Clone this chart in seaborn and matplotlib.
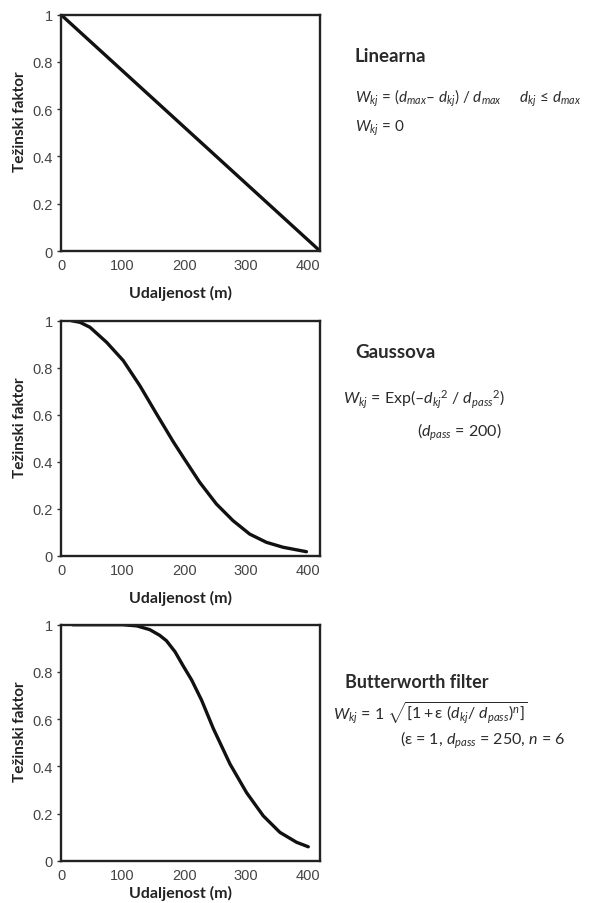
import numpy as np
import pandas as pd
import matplotlib
matplotlib.use("Agg")
import matplotlib.pyplot as plt
import seaborn as sns

# Values (distance in m, weight factor)
linear_d = [0, 420]
linear_w = [1.0, 0.0]

gauss_d = [17, 31, 47, 74, 101, 128, 155, 182, 198, 225, 252, 279, 306, 333, 360, 398]
gauss_w = [1.0, 0.993, 0.972, 0.908, 0.83, 0.723, 0.603, 0.485, 0.42, 0.312,
           0.22, 0.149, 0.092, 0.057, 0.036, 0.017]

butter_d = [19, 60, 100, 123, 144, 160, 171, 185, 198, 212, 228, 247, 274, 301,
            328, 355, 382, 401]
butter_w = [1.0, 1.0, 1.0, 0.995, 0.979, 0.955, 0.932, 0.885, 0.826, 0.765, 0.68,
            0.56, 0.41, 0.288, 0.19, 0.12, 0.078, 0.059]

x_ticks = [0, 100, 200, 300, 400]
y_ticks = [0, 0.2, 0.4, 0.6, 0.8, 1]
y_ticklabels = ["0", "0.2", "0.4", "0.6", "0.8", "1"]

x_label = "Udaljenost (m)"
y_label = "Težinski faktor"

sns.set_theme(style="white")
plt.rcParams["font.family"] = ["Lato", "DejaVu Sans"]
plt.rcParams["mathtext.fontset"] = "custom"
plt.rcParams["mathtext.rm"] = "Lato"
plt.rcParams["mathtext.it"] = "Lato:italic"
plt.rcParams["mathtext.bf"] = "Lato:bold"

fig = plt.figure(figsize=(5.95, 9.04), dpi=100)

W, H = 595.0, 904.0
# axes boxes in pixels: (left, top, right, bottom)
boxes = [(61, 15.7, 320, 252), (61, 321.7, 320, 556.7), (61, 625.7, 320, 861.7)]
series = [(linear_d, linear_w), (gauss_d, gauss_w), (butter_d, butter_w)]
xlabel_y = [-0.174, -0.176, -0.133]

for (l, t, r, b), (xd, yd), ly in zip(boxes, series, xlabel_y):
    ax = fig.add_axes([l / W, 1 - b / H, (r - l) / W, (b - t) / H])
    df = pd.DataFrame({"d": xd, "w": yd})
    sns.lineplot(data=df, x="d", y="w", ax=ax, color="#111111", linewidth=2.4,
                 sort=False)
    ax.set_xlim(0, 420)
    ax.set_ylim(0, 1)
    ax.set_xticks(x_ticks)
    ax.set_xticklabels([str(v) for v in x_ticks], family="Liberation Sans")
    ax.set_yticks(y_ticks)
    ax.set_yticklabels(y_ticklabels, family="Liberation Sans")
    ax.tick_params(axis="both", labelsize=10.5, colors="#444444", pad=3)
    ax.tick_params(axis="y", length=3, width=1, left=True, color="#333333")
    ax.tick_params(axis="x", length=0, pad=5)
    for s in ax.spines.values():
        s.set_color("#222222")
        s.set_linewidth(1.7)
    ax.set_xlabel(x_label, fontsize=11.5, fontweight="bold", color="#222222")
    ax.set_ylabel(y_label, fontsize=11, fontweight="bold", color="#222222")
    ax.xaxis.set_label_coords(0.46, ly, transform=ax.transAxes)
    ax.xaxis.label.set_va("center")
    ax.yaxis.set_label_coords(-0.158, 0.55, transform=ax.transAxes)
    ax.yaxis.label.set_va("center")

def ftext(x, y, s, **kw):
    fig.text(x / W, 1 - y / H, s, va="center", ha="left", color="#2a2a2a", **kw)

ftext(355, 56, "Linearna", fontsize=13.5, fontweight="bold")
ftext(355, 98, r"$W_{kj}$ = ($d_{max}$– $d_{kj}$) / $d_{max}$     $d_{kj}$ ≤ $d_{max}$",
      fontsize=11)
ftext(355, 128, r"$W_{kj}$ = 0", fontsize=11)

ftext(355, 353, "Gaussova", fontsize=13.5, fontweight="bold")
ftext(343, 400, r"$W_{kj}$ = Exp(–$d_{kj}{}^{2}$ / $d_{pass}{}^{2}$)", fontsize=11.5)
ftext(417, 432, r"($d_{pass}$ = 200)", fontsize=11.5)

ftext(345, 683, "Butterworth filter", fontsize=13, fontweight="bold")
ftext(333, 713, r"$W_{kj}$ = 1 $\sqrt{[1 + \mathrm{ε}\ (d_{kj}/\ d_{pass})^{n}]}$",
      fontsize=11.5)
ftext(400, 740, r"(ε = 1, $d_{pass}$ = 250, $n$ = 6", fontsize=11.5)

fig.savefig("out.png", dpi=100)
